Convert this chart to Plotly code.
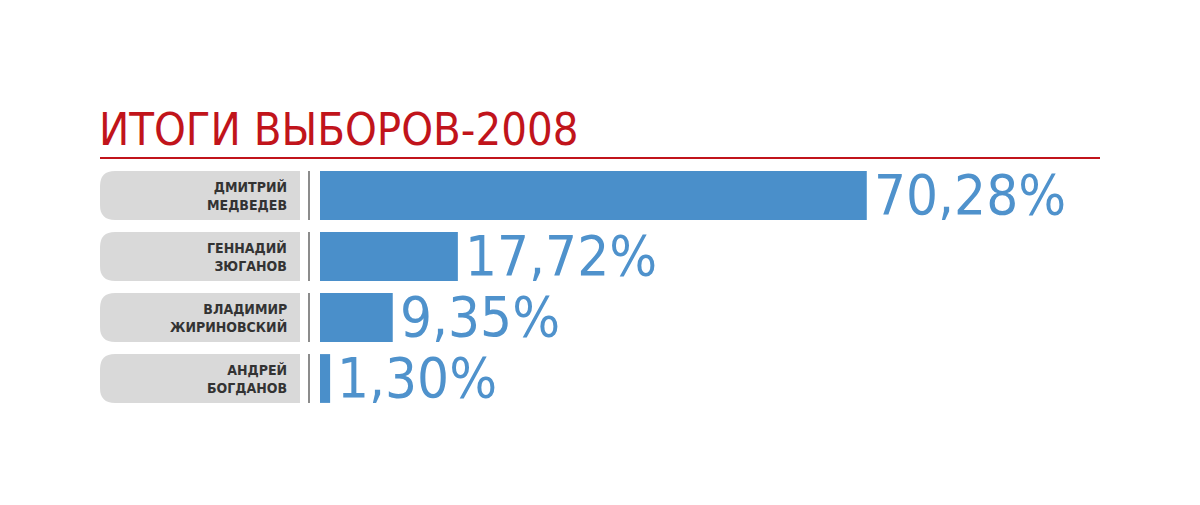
import plotly.graph_objects as go

# Data
names = ["ДМИТРИЙ<br>МЕДВЕДЕВ", "ГЕННАДИЙ<br>ЗЮГАНОВ", "ВЛАДИМИР<br>ЖИРИНОВСКИЙ", "АНДРЕЙ<br>БОГДАНОВ"]
values = [70.28, 17.72, 9.35, 1.30]
value_labels = ["70,28%", "17,72%", "9,35%", "1,30%"]
title_text = "ИТОГИ ВЫБОРОВ-2008"

W, H = 1200, 505
OFF = 8  # page body margin
L, R, T, B = 320 - OFF, 100 + OFF, 165 - OFF, 96 + OFF
plot_w = W - L - R
plot_h = H - T - B

COND = "Liberation Sans Narrow, DejaVu Sans Condensed, Roboto, sans-serif"
BLUE = "#4a8fca"
RED = "#c1141b"


def px(x):
    # reference pixel x -> paper x
    return (x - OFF - L) / plot_w


ypos = list(range(len(values)))

fig = go.Figure()
fig.add_trace(go.Bar(
    x=values,
    y=ypos,
    orientation="h",
    width=0.8,
    marker=dict(color=BLUE, line=dict(width=0)),
    hoverinfo="skip",
))

shapes = []
annotations = []
rx = px(100)
rx2 = px(300)
cr = 15 / plot_w
for i, nm in enumerate(names):
    y0, y1 = i - 0.4, i + 0.4
    ry = 15 / 61
    path = (f"M {rx + cr},{y0} L {rx2},{y0} L {rx2},{y1} L {rx + cr},{y1} "
            f"Q {rx},{y1} {rx},{y1 - ry} L {rx},{y0 + ry} Q {rx},{y0} {rx + cr},{y0} Z")
    shapes.append(dict(type="path", path=path, xref="paper", yref="y",
                       fillcolor="#d9d9d9", line=dict(width=0), layer="below"))
    shapes.append(dict(type="line", xref="paper", yref="y", x0=px(309), x1=px(309),
                       y0=y0, y1=y1, line=dict(color="#8c8c8c", width=2)))
    annotations.append(dict(x=px(289), y=i, xref="paper", yref="y", text=f"<b>{nm}</b>",
                            showarrow=False, xanchor="right", yanchor="middle", align="right",
                            font=dict(family=COND, size=14, color="#333333")))
    annotations.append(dict(x=values[i], y=i, xref="x", yref="y", text=value_labels[i],
                            showarrow=False, xanchor="left", yanchor="middle", xshift=5, yshift=1,
                            font=dict(family=COND, size=56, color="#4f92cc")))

# red rule under title
rule_y = 1 + (165 - 158) / plot_h
shapes.append(dict(type="line", xref="paper", yref="paper", x0=px(100), x1=px(1100),
                   y0=rule_y, y1=rule_y, line=dict(color=RED, width=2)))

annotations.append(dict(x=px(97), y=1 + (165 - 158) / plot_h, xref="paper", yref="paper",
                        text=title_text, showarrow=False, xanchor="left", yanchor="bottom",
                        font=dict(family=COND, size=45, color=RED)))

fig.update_layout(
    width=W, height=H,
    margin=dict(l=L, r=R, t=T, b=B),
    paper_bgcolor="white", plot_bgcolor="white",
    showlegend=False,
    xaxis=dict(range=[0, plot_w / 7.78], visible=False, fixedrange=True),
    yaxis=dict(range=[3.5, -0.5], visible=False, fixedrange=True),
    shapes=shapes,
    annotations=annotations,
)

fig.write_html("out.html")
